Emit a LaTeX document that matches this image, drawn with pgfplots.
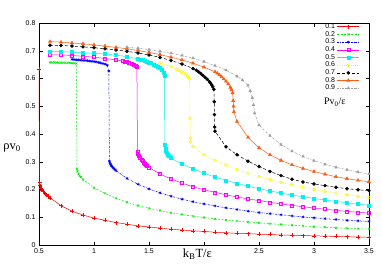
\documentclass[border=0pt]{standalone}
\usepackage{pgfplots}
\pgfplotsset{compat=1.18}
\usepackage{fontspec}
\setmainfont{Liberation Sans}
\newfontfamily\serif{Liberation Serif}
\definecolor{cred}{RGB}{255,0,0}
\definecolor{cgreen}{RGB}{0,235,0}
\definecolor{cblue}{RGB}{0,0,255}
\definecolor{cmag}{RGB}{255,0,255}
\definecolor{ccyan}{RGB}{0,240,240}
\definecolor{cyel}{RGB}{250,245,0}
\definecolor{corange}{RGB}{255,90,20}
\definecolor{cgray}{RGB}{160,160,160}
\begin{document}
\begin{tikzpicture}
\begin{axis}[
  at={(0pt,0pt)}, anchor=south west,
  scale only axis, width=330pt, height=222pt,
  xmin=0.5, xmax=3.5, ymin=0, ymax=0.8,
  xtick={0.5,1,1.5,2,2.5,3,3.5},
  xticklabels={0.5,1,1.5,,2.5,3,3.5},
  ytick={0,0.1,0.2,0.3,0.4,0.5,0.6,0.7,0.8},
  yticklabels={0,0.1,0.2,0.3,0.4,0.5,0.6,0.7,0.8},
  tick align=inside, major tick length=3.5pt,
  tick style={line width=0.5pt, black},
  axis line style={line width=0.6pt},
  /pgf/number format/assume math mode=true,
  tick label style={font=\fontsize{7}{8}\selectfont},
  xlabel={\serif k\textsubscript{B}T/ε},
  ylabel={\serif ρv\textsubscript{0}},
  every axis x label/.style={at={(rel axis cs:0.48,0)}, anchor=north, inner sep=0pt, yshift=-4pt, font=\fontsize{12.5}{13}\selectfont},
  every axis y label/.style={at={(rel axis cs:0,0.43)}, anchor=base east, inner sep=0pt, xshift=-18pt, font=\fontsize{12.5}{13}\selectfont},
  legend style={draw=none, fill=none, at={(0.975,1.012)}, anchor=north east,
     font=\fontsize{7}{7}\selectfont, row sep=-2.7pt, inner sep=1pt},
  legend plot pos=right, legend cell align=right,
  legend image code/.code={\draw[mark repeat=2,mark phase=2] plot coordinates {(0pt,0pt)(11pt,0pt)(22pt,0pt)};},
  every axis plot/.append style={line width=0.5pt, mark size=1.5pt, mark options={solid, line width=0.5pt}},
]
% 0.1
\addplot[cred, mark=+, mark size=2pt] coordinates {
(0.5,0.633)(0.505,0.225)(0.51,0.214)(0.52,0.206)(0.53,0.199)(0.54,0.193)(0.55,0.188)(0.56,0.184)(0.57,0.180)(0.58,0.176)
(0.6,0.170)(0.7,0.142)(0.8,0.122)(0.9,0.108)(1.0,0.097)(1.1,0.089)(1.2,0.081)(1.3,0.075)(1.4,0.069)(1.5,0.065)
(1.6,0.061)(1.7,0.057)(1.8,0.054)(1.9,0.051)(2.0,0.049)(2.1,0.046)(2.2,0.044)(2.3,0.042)(2.4,0.041)(2.5,0.039)
(2.6,0.038)(2.7,0.036)(2.8,0.035)(2.9,0.034)(3.0,0.033)(3.1,0.032)(3.2,0.031)(3.3,0.030)(3.4,0.029)(3.5,0.028)};
\addlegendentry{0.1}
% 0.2
\addplot[cgreen, mark=x, dash pattern=on 2pt off 1.5pt] coordinates {
(0.60,0.658)(0.62,0.658)(0.64,0.658)(0.66,0.657)(0.68,0.657)(0.70,0.657)(0.72,0.657)(0.74,0.656)(0.76,0.656)(0.78,0.656)(0.80,0.655)(0.82,0.655)(0.84,0.654)
(0.845,0.273)(0.85,0.265)(0.86,0.256)(0.87,0.249)(0.88,0.244)(0.9,0.236)(1.0,0.206)(1.1,0.186)(1.2,0.168)(1.3,0.154)(1.4,0.142)(1.5,0.132)
(1.6,0.124)(1.7,0.116)(1.8,0.110)(1.9,0.104)(2.0,0.099)(2.1,0.094)(2.2,0.090)(2.3,0.086)(2.4,0.083)(2.5,0.080)
(2.6,0.077)(2.7,0.074)(2.8,0.071)(2.9,0.069)(3.0,0.066)(3.1,0.064)(3.2,0.062)(3.3,0.060)(3.4,0.059)(3.5,0.057)};
\addlegendentry{0.2}
% 0.3
\addplot[cblue, mark=asterisk, dash pattern=on 2pt off 1pt on 0.5pt off 1pt] coordinates {
(0.80,0.669)(0.82,0.668)(0.84,0.667)(0.86,0.667)(0.88,0.666)(0.90,0.665)(0.92,0.665)(0.94,0.664)(0.96,0.663)(0.98,0.662)(1.00,0.661)(1.02,0.660)(1.04,0.658)(1.06,0.656)(1.08,0.654)(1.10,0.652)(1.12,0.648)(1.135,0.627)
(1.14,0.302)(1.145,0.296)(1.15,0.291)(1.155,0.287)(1.16,0.284)(1.17,0.280)(1.18,0.276)(1.19,0.272)(1.2,0.268)
(1.3,0.240)(1.4,0.219)(1.5,0.202)(1.6,0.188)(1.7,0.176)(1.8,0.165)(1.9,0.156)(2.0,0.148)(2.1,0.141)(2.2,0.134)(2.3,0.128)(2.4,0.122)(2.5,0.117)
(2.6,0.113)(2.7,0.109)(2.8,0.105)(2.9,0.101)(3.0,0.098)(3.1,0.095)(3.2,0.092)(3.3,0.089)(3.4,0.087)(3.5,0.085)};
\addlegendentry{0.3}
% 0.4
\addplot[cmag, mark=square] coordinates {
(0.6,0.685)(0.7,0.685)(0.8,0.683)(0.9,0.680)(1.0,0.677)(1.1,0.672)(1.2,0.667)(1.26,0.663)(1.28,0.661)(1.30,0.659)(1.32,0.657)(1.34,0.654)(1.36,0.651)(1.38,0.647)(1.39,0.642)
(1.395,0.336)(1.40,0.329)(1.41,0.322)(1.42,0.315)(1.43,0.309)(1.44,0.303)(1.45,0.298)(1.46,0.294)(1.47,0.290)(1.48,0.286)
(1.5,0.279)(1.6,0.256)(1.7,0.238)(1.8,0.223)(1.9,0.210)(2.0,0.199)(2.1,0.190)(2.2,0.181)(2.3,0.173)(2.4,0.166)(2.5,0.160)
(2.6,0.154)(2.7,0.148)(2.8,0.143)(2.9,0.138)(3.0,0.133)(3.1,0.129)(3.2,0.125)(3.3,0.121)(3.4,0.118)(3.5,0.115)};
\addlegendentry{0.4}
% 0.5
\addplot[ccyan, mark=square*] coordinates {
(0.6,0.697)(0.7,0.697)(0.8,0.695)(0.9,0.693)(1.0,0.691)(1.1,0.688)(1.2,0.684)(1.3,0.679)(1.4,0.670)(1.42,0.668)(1.44,0.666)(1.46,0.664)(1.48,0.661)(1.50,0.658)(1.52,0.655)(1.54,0.651)(1.56,0.647)(1.58,0.643)(1.60,0.638)(1.62,0.631)(1.635,0.622)(1.64,0.610)
(1.645,0.360)(1.65,0.347)(1.655,0.338)(1.66,0.333)(1.67,0.326)(1.68,0.320)(1.7,0.313)(1.8,0.292)(1.9,0.274)(2.0,0.259)(2.1,0.245)(2.2,0.233)(2.3,0.222)(2.4,0.212)(2.5,0.203)
(2.6,0.195)(2.7,0.187)(2.8,0.180)(2.9,0.174)(3.0,0.168)(3.1,0.162)(3.2,0.157)(3.3,0.152)(3.4,0.147)(3.5,0.143)};
\addlegendentry{0.5}
% 0.6
\addplot[cyel, mark=o, dash pattern=on 1pt off 1.2pt] coordinates {
(1.6,0.655)(1.7,0.643)(1.75,0.634)(1.77,0.630)(1.79,0.625)(1.81,0.620)(1.83,0.615)(1.85,0.609)(1.86,0.605)(1.87,0.598)
(1.873,0.457)(1.876,0.385)(1.88,0.372)(1.9,0.355)(2.0,0.325)(2.1,0.305)(2.2,0.288)(2.3,0.272)(2.4,0.259)(2.5,0.247)
(2.6,0.236)(2.7,0.226)(2.8,0.217)(2.9,0.208)(3.0,0.200)(3.1,0.193)(3.2,0.187)(3.3,0.181)(3.4,0.175)(3.5,0.170)};
\addlegendentry{0.6}
% 0.7
\addplot[black, mark=*, dash pattern=on 3pt off 2pt] coordinates {
(0.6,0.720)(0.7,0.719)(0.8,0.717)(0.9,0.714)(1.0,0.711)(1.1,0.707)(1.2,0.703)(1.3,0.698)(1.4,0.692)(1.5,0.685)(1.6,0.676)(1.7,0.665)(1.8,0.652)(1.9,0.636)
(1.93,0.630)(1.95,0.624)(1.97,0.618)(1.99,0.611)(2.01,0.604)(2.03,0.597)(2.05,0.588)(2.06,0.583)(2.07,0.577)(2.08,0.570)(2.09,0.561)
(2.093,0.516)(2.095,0.470)(2.097,0.425)(2.10,0.410)(2.2,0.354)(2.3,0.325)(2.4,0.302)(2.5,0.283)
(2.6,0.265)(2.7,0.250)(2.8,0.237)(2.9,0.227)(3.0,0.220)(3.1,0.214)(3.2,0.208)(3.3,0.203)(3.4,0.199)(3.5,0.196)};
\addlegendentry{0.7}
% 0.8
\addplot[corange, mark=triangle*, mark size=1.8pt] coordinates {
(0.6,0.733)(0.7,0.731)(0.8,0.728)(0.9,0.725)(1.0,0.721)(1.1,0.717)(1.2,0.712)(1.3,0.707)(1.4,0.701)(1.5,0.694)(1.6,0.686)(1.7,0.677)(1.8,0.667)(1.9,0.655)(2.0,0.641)(2.1,0.624)
(2.12,0.619)(2.14,0.613)(2.16,0.606)(2.18,0.598)(2.2,0.590)(2.22,0.580)(2.24,0.568)(2.25,0.560)(2.26,0.548)(2.265,0.520)(2.268,0.500)(2.272,0.480)
(2.3,0.445)(2.4,0.388)(2.5,0.350)(2.6,0.325)(2.7,0.305)(2.8,0.289)(2.9,0.276)(3.0,0.265)(3.1,0.255)(3.2,0.246)(3.3,0.239)(3.4,0.233)(3.5,0.228)};
\addlegendentry{0.8}
% 0.9
\addplot[cgray, mark=triangle*, mark size=1.5pt, dash pattern=on 2pt off 1pt on 0.5pt off 1pt] coordinates {
(1.3,0.713)(1.4,0.709)(1.5,0.704)(1.6,0.698)(1.7,0.691)(1.8,0.683)(1.9,0.673)(2.0,0.661)(2.1,0.646)(2.2,0.630)(2.3,0.608)(2.35,0.594)(2.4,0.575)
(2.42,0.555)(2.44,0.530)(2.45,0.505)(2.46,0.475)(2.5,0.432)(2.6,0.394)(2.7,0.362)(2.8,0.338)(2.9,0.319)(3.0,0.304)
(3.1,0.291)(3.2,0.280)(3.3,0.271)(3.4,0.263)(3.5,0.256)};
\addlegendentry{0.9}
\node[anchor=west, inner sep=0pt, font=\serif\fontsize{10}{11}\selectfont] at (axis cs:3.09,0.515) {Pv\textsubscript{0}/ε};
\end{axis}
\pgfresetboundingbox
\path (-39pt,-23pt) rectangle (343pt,245pt);
\end{tikzpicture}
\end{document}
